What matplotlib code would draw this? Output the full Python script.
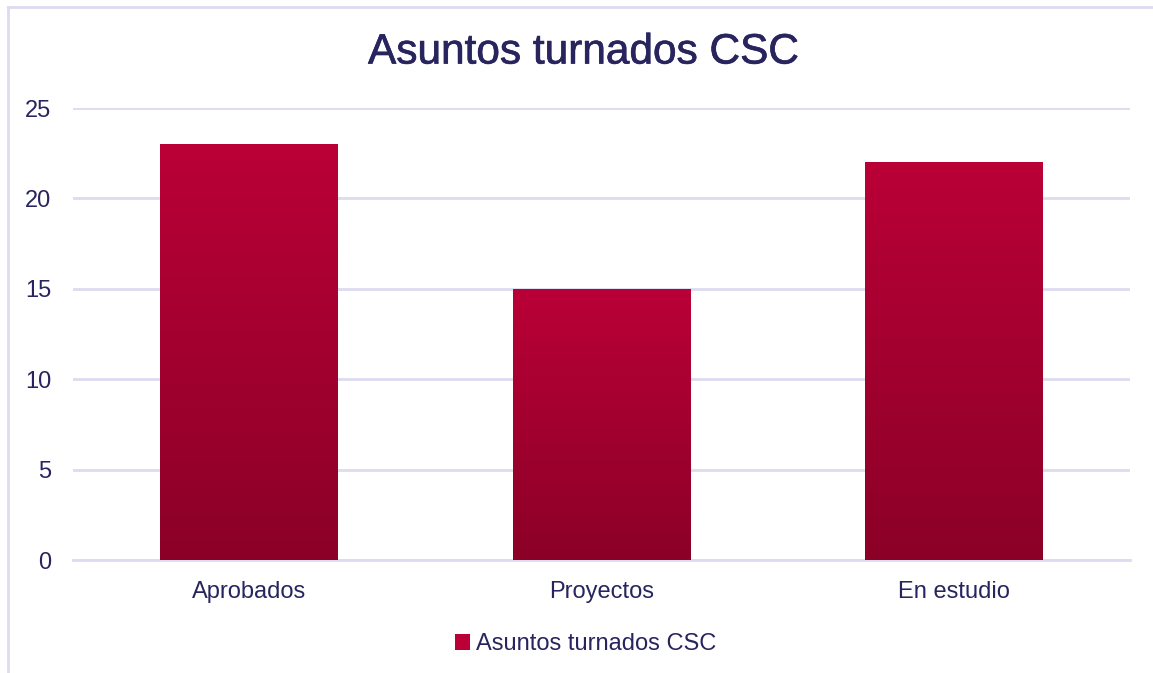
import numpy as np
import matplotlib.pyplot as plt
from matplotlib.colors import LinearSegmentedColormap
from matplotlib.lines import Line2D
from matplotlib.patches import Patch
import matplotlib.patheffects as pe

categories = ["Aprobados", "Proyectos", "En estudio"]
values = [23, 15, 22]
series_name = "Asuntos turnados CSC"
yticks = [0, 5, 10, 15, 20, 25]

text_color = "#27245e"
grid_color = "#dcdcf0"
top_red = "#ba0037"
bottom_red = "#8b0027"

plt.rcParams['font.family'] = ['Liberation Sans', 'DejaVu Sans']

fig = plt.figure(figsize=(11.53, 6.73), dpi=100)
ax = fig.add_axes([0.0633, 0.1679, 0.9167, 0.6716])

x = np.arange(len(categories))
bars = ax.bar(x, values, width=0.505, color=top_red, zorder=3)

# vertical gradient inside each bar
cmap = LinearSegmentedColormap.from_list("red_grad", [bottom_red, top_red])
grad = np.linspace(0, 1, 256).reshape(-1, 1)
for b in bars:
    x0, w, h = b.get_x(), b.get_width(), b.get_height()
    b.set_path_effects([pe.SimplePatchShadow(offset=(0, -1.5), shadow_rgbFace="#000000", alpha=0.22),
                        pe.Normal()])
    im = ax.imshow(grad, cmap=cmap, origin="lower", aspect="auto",
                   extent=(x0, x0 + w, 0, h), zorder=4)
    im.set_clip_path(b)

ax.set_xlim(-0.5, len(categories) - 0.5)
ax.set_ylim(0, 25)
ax.set_yticks(yticks)
ax.set_xticks(x)
ax.set_xticklabels(categories)
ax.tick_params(axis="both", length=0, labelsize=17, labelcolor=text_color)
ax.tick_params(axis="y", pad=15.5)
ax.tick_params(axis="x", pad=15)
ax.grid(axis="y", color=grid_color, linewidth=2, zorder=0)
ax.axhline(0, color=grid_color, linewidth=2, zorder=1, clip_on=False)
for s in ax.spines.values():
    s.set_visible(False)

fig.text(0.506, 0.922, series_name, ha="center", va="center",
         fontsize=30.5, color=text_color,
         path_effects=[pe.withStroke(linewidth=0.5, foreground=text_color)])

# chart frame (top and left edges visible)
fig.add_artist(Line2D([8 / 1153, 1.0], [1 - 7 / 673, 1 - 7 / 673], color=grid_color, linewidth=2))
fig.add_artist(Line2D([8 / 1153, 8 / 1153], [0, 1 - 7 / 673], color=grid_color, linewidth=2))

handle = Patch(facecolor=top_red, edgecolor="none")
fig.legend([handle], [series_name], loc="center", bbox_to_anchor=(0.508, 0.0425),
           frameon=False, fontsize=17, labelcolor=text_color,
           handlelength=0.65, handleheight=0.65, handletextpad=0.25)

fig.savefig("out.png", dpi=100)
